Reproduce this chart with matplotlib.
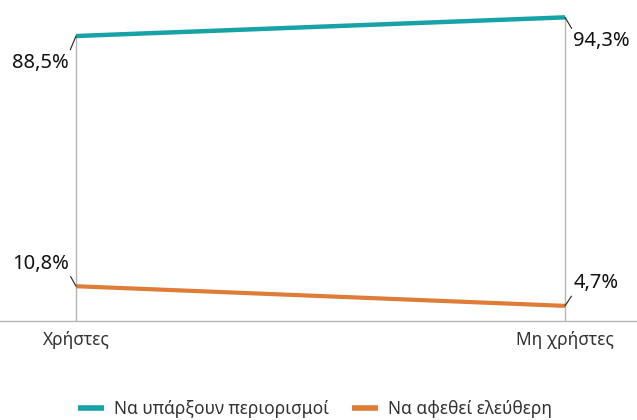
import matplotlib
matplotlib.use("Agg")
import matplotlib.pyplot as plt

categories = ["Χρήστες", "Μη χρήστες"]
series_names = ["Να υπάρξουν περιορισμοί", "Να αφεθεί ελεύθερη"]
restrict = [88.5, 94.3]
free = [10.8, 4.7]
colors = ["#17a2a8", "#de7c38"]

plt.rcParams['font.family'] = ['Noto Sans', 'DejaVu Sans']

fig = plt.figure(figsize=(6.37, 4.2), dpi=100)
ax = fig.add_axes([0.0, 1 - 321/420, 1.0, 321/420])

x = [0, 1]
# drop lines
for xi, v in zip(x, [max(a, b) for a, b in zip(restrict, free)]):
    ax.plot([xi, xi], [0, v], color="#b5b5b5", lw=1.0, zorder=1)

ax.plot(x, restrict, color=colors[0], lw=3.2, solid_capstyle='butt', zorder=3, label=series_names[0])
ax.plot(x, free, color=colors[1], lw=3.0, solid_capstyle='butt', zorder=3, label=series_names[1])

ax.set_xlim(-76/489, 1 + 72/489)
ax.set_ylim(0, 321/3.22)

def lab(xi, v, dx, dy, ha, va, rel):
    s = f"{v:.1f}".replace(".", ",") + "%"
    ax.annotate(s, xy=(xi, v), xytext=(dx, dy), textcoords="offset points",
                ha=ha, va=va, fontsize=14.5, color="#111111", fontweight="medium",
                arrowprops=dict(arrowstyle="-", color="#222222", lw=0.8,
                                shrinkA=0, shrinkB=0, relpos=rel))

lab(0, restrict[0], -5, -12, "right", "top", (1, 1))
lab(1, restrict[1], 6, -10, "left", "top", (0, 1))
lab(0, free[0], -5, 9, "right", "bottom", (1, 0))
lab(1, free[1], 6, 9, "left", "bottom", (0, 0))

for s in ["top", "right", "left"]:
    ax.spines[s].set_visible(False)
ax.spines["bottom"].set_color("#b5b5b5")
ax.spines["bottom"].set_linewidth(1.0)
ax.set_yticks([])
ax.set_xticks(x)
ax.set_xticklabels(categories, fontsize=12.5, color="#333333")
ax.tick_params(axis="x", length=0, pad=7)

leg = fig.legend(loc="center", bbox_to_anchor=(315/637, 1 - 409/420), ncol=2, frameon=False,
                 fontsize=12.5, handlelength=1.5, handletextpad=0.6, columnspacing=1.3)
for t in leg.get_texts():
    t.set_color("#333333")
for h in leg.get_lines():
    h.set_linewidth(4)

fig.savefig("out.png", dpi=100)
